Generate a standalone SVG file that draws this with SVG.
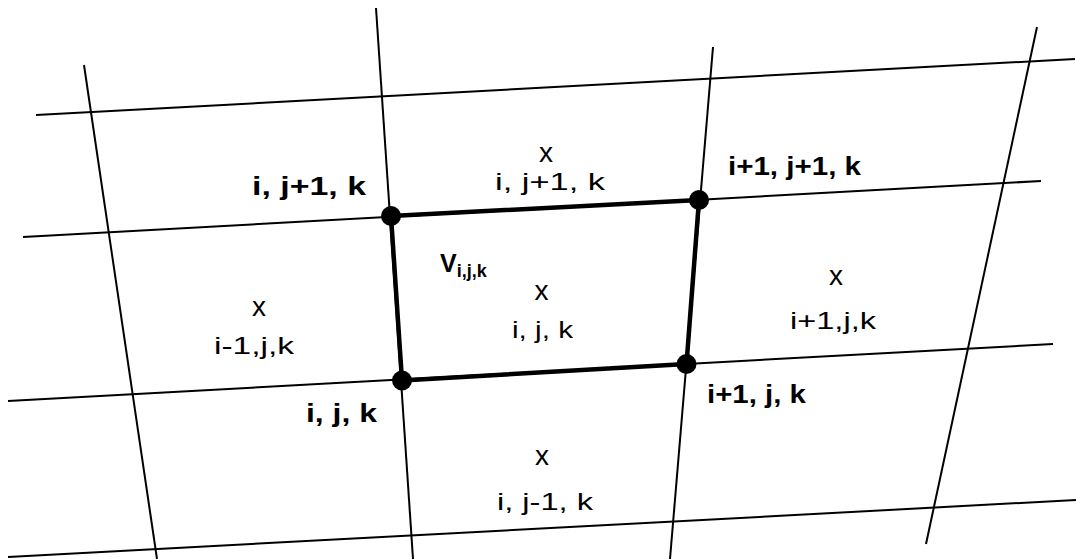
<svg xmlns="http://www.w3.org/2000/svg" width="1076" height="559" viewBox="0 0 1076 559">
<style>
.grid{stroke:#000;stroke-width:2;fill:none;stroke-linecap:butt}
.cell{stroke:#000;stroke-width:4.5;fill:none;stroke-linejoin:round}
.node{fill:#000}
.reg{font-family:"Liberation Sans",Arial,sans-serif;font-size:24px;fill:#000}
.bold{font-family:"Liberation Sans",Arial,sans-serif;font-size:25px;font-weight:bold;fill:#000}
.mark{font-family:"Liberation Sans",Arial,sans-serif;font-size:28px;fill:#000;text-anchor:middle}
</style>
<rect width="1076" height="559" fill="#fff"/>
<g id="connectors">
<line class="grid" x1="36" y1="115" x2="1075" y2="59"/>
<line class="grid" x1="23" y1="237" x2="1041" y2="181"/>
<line class="grid" x1="8" y1="401" x2="1053" y2="344"/>
<line class="grid" x1="8" y1="557" x2="1076" y2="500"/>
<line class="grid" x1="84" y1="65" x2="157" y2="559"/>
<line class="grid" x1="376" y1="8" x2="413" y2="559"/>
<line class="grid" x1="713" y1="47" x2="670" y2="559"/>
<line class="grid" x1="1037" y1="27" x2="926" y2="544"/>
<polygon class="cell" points="391,216 699,200 686.5,364 402,380.5"/>
</g>
<g id="node-i-j1-k">
<circle class="node" cx="391" cy="216" r="10"/>
<text class="bold" x="252" y="195" textLength="114" lengthAdjust="spacingAndGlyphs">i, j+1, k</text>
</g>
<g id="node-i1-j1-k">
<circle class="node" cx="699" cy="200" r="10"/>
<text class="bold" x="728" y="175" textLength="133" lengthAdjust="spacingAndGlyphs">i+1, j+1, k</text>
</g>
<g id="node-i-j-k">
<circle class="node" cx="402" cy="380.5" r="10"/>
<text class="bold" x="306" y="422" textLength="71" lengthAdjust="spacingAndGlyphs">i, j, k</text>
</g>
<g id="node-i1-j-k">
<circle class="node" cx="686.5" cy="364" r="10"/>
<text class="bold" x="707" y="403" textLength="99" lengthAdjust="spacingAndGlyphs">i+1, j, k</text>
</g>
<g id="cell-center">
<text class="bold" x="440" y="272" font-size="28">V<tspan font-size="18" dy="5">i,j,k</tspan></text>
<text class="mark" x="541.5" y="300">x</text>
<text class="reg" x="512" y="338" textLength="61" lengthAdjust="spacingAndGlyphs">i, j, k</text>
</g>
<g id="cell-top">
<text class="mark" x="546" y="162">x</text>
<text class="reg" x="495" y="190" textLength="110" lengthAdjust="spacingAndGlyphs">i, j+1, k</text>
</g>
<g id="cell-left">
<text class="mark" x="259" y="316">x</text>
<text class="reg" x="214" y="354" textLength="80" lengthAdjust="spacingAndGlyphs">i-1,j,k</text>
</g>
<g id="cell-right">
<text class="mark" x="836" y="285">x</text>
<text class="reg" x="790" y="329" textLength="86" lengthAdjust="spacingAndGlyphs">i+1,j,k</text>
</g>
<g id="cell-bottom">
<text class="mark" x="542" y="465">x</text>
<text class="reg" x="497" y="510" textLength="96" lengthAdjust="spacingAndGlyphs">i, j-1, k</text>
</g>
</svg>
